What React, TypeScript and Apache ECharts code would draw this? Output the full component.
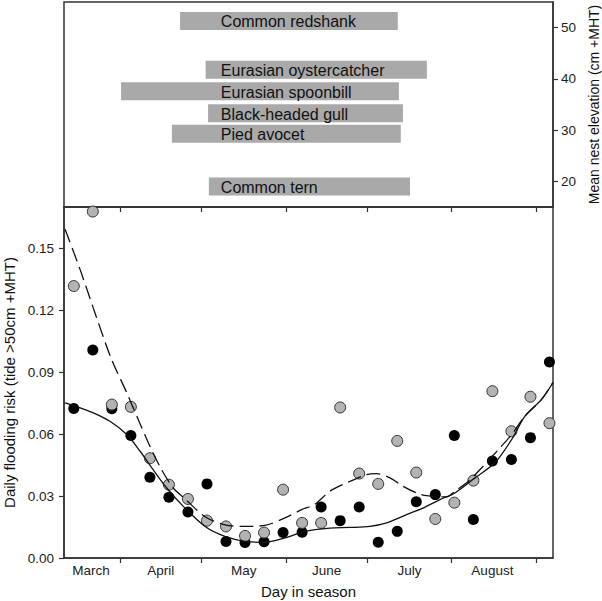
import React, { useEffect, useRef } from "react";
import * as echarts from "echarts";

// ---- Data ----
const weekDays = [74, 81, 88, 95, 102, 109, 116, 123, 130, 137, 144, 151, 158, 165, 172, 179, 186, 193, 200, 207, 214, 221, 228, 235, 242, 249];
const blackRisk = [0.0724, 0.1007, 0.0723, 0.0593, 0.0391, 0.0294, 0.0223, 0.0359, 0.0080, 0.0075, 0.0079, 0.0124, 0.0125, 0.0247, 0.0181, 0.0247, 0.0076, 0.0129, 0.0272, 0.0307, 0.0593, 0.0186, 0.0470, 0.0477, 0.0583, 0.0949];
const grayRisk = [0.1317, 0.1678, 0.0743, 0.0732, 0.0483, 0.0355, 0.0286, 0.0181, 0.0153, 0.0107, 0.0123, 0.0331, 0.0170, 0.0170, 0.0729, 0.0409, 0.0359, 0.0567, 0.0414, 0.0189, 0.0268, 0.0375, 0.0808, 0.0614, 0.0781, 0.0653];

const solidFitDays = [70.8, 76.3, 81.2, 87.3, 93.5, 98.4, 103.2, 108.2, 114.3, 122.3, 129.6, 137.0, 144.3, 151.7, 157.8, 162.7, 168.2, 175.6, 182.9, 189.1, 196.4, 202.5, 208.7, 214.2, 221.6, 228.9, 235.1, 240.0, 246.1, 250.3];
const solidFitRisk = [0.0751, 0.0727, 0.0703, 0.0662, 0.0598, 0.0517, 0.0428, 0.0339, 0.0250, 0.0153, 0.0105, 0.0081, 0.0076, 0.0097, 0.0124, 0.0137, 0.0145, 0.0148, 0.0153, 0.0170, 0.0210, 0.0242, 0.0283, 0.0315, 0.0388, 0.0461, 0.0574, 0.0687, 0.0768, 0.0850];

const dashedFitDays = [70.8, 76.3, 82.4, 87.9, 93.5, 97.7, 102.0, 106.3, 110.6, 114.9, 122.3, 129.6, 137.0, 144.3, 151.7, 157.8, 162.7, 168.2, 175.6, 181.7, 185.4, 190.3, 195.2, 200.1, 203.8, 211.2, 214.2, 219.1, 224.0, 231.3, 235.1, 240.0, 246.1, 250.3];
const dashedFitRisk = [0.1592, 0.1398, 0.1164, 0.0962, 0.0800, 0.0671, 0.0541, 0.0428, 0.0339, 0.0287, 0.0200, 0.0161, 0.0153, 0.0158, 0.0194, 0.0234, 0.0260, 0.0323, 0.0371, 0.0404, 0.0409, 0.0388, 0.0347, 0.0315, 0.0302, 0.0296, 0.0323, 0.0371, 0.0436, 0.0541, 0.0598, 0.0687, 0.0768, 0.0850];

const species = ["Common redshank", "Eurasian oystercatcher", "Eurasian spoonbill", "Black-headed gull", "Pied avocet", "Common tern"];
const nestStart = [113.1, 122.5, 91.4, 123.4, 110.1, 123.7];
const nestEnd = [193.2, 203.9, 193.6, 195.1, 194.3, 197.7];
const nestElevation = [51.3, 41.8, 37.6, 33.3, 29.3, 19.0];

const monthNames = ["March", "April", "May", "June", "July", "August"];
const monthLabelDays = [80.3, 106, 136.5, 167, 197.5, 228];
const monthBoundaryDays = [91, 121, 152, 182, 213, 244];
const riskTicks = [0, 0.03, 0.06, 0.09, 0.12, 0.15];
const elevationTicks = [20, 30, 40, 50];

// ---- Styling ----
const FONT = "'Liberation Sans', Arial, Helvetica, sans-serif";
const AXIS = "#333";
const X_MIN = 70.4;
const X_MAX = 250.3;
const LABEL_DAY = 128.1;
const BAR_PX = 18;

export default function App() {
  const ref = useRef<HTMLDivElement>(null);

  useEffect(() => {
    if (!ref.current) return;
    const chart = echarts.init(ref.current, undefined, { renderer: "svg" });

    const axisLine = { show: true, lineStyle: { color: AXIS, width: 1.5 } };
    const tickStyle = { color: AXIS, width: 1.2 };

    const option: any = {
      animation: false,
      textStyle: { fontFamily: FONT },
      grid: [
        { left: 64, right: 49, top: 2, height: 205, show: true, borderColor: AXIS, borderWidth: 1.5, backgroundColor: "transparent", containLabel: false, outerBoundsMode: "none" },
        { left: 64, right: 49, top: 207, height: 351, show: true, borderColor: AXIS, borderWidth: 1.5, backgroundColor: "transparent", containLabel: false, outerBoundsMode: "none" },
      ],
      xAxis: [
        { type: "value", gridIndex: 0, min: X_MIN, max: X_MAX, show: false },
        {
          type: "value", gridIndex: 1, min: X_MIN, max: X_MAX, position: "bottom",
          name: "Day in season", nameLocation: "middle", nameGap: 26,
          nameTextStyle: { fontSize: 15, color: "#111", fontFamily: FONT },
          axisLine,
          axisTick: { show: true, customValues: monthBoundaryDays, length: 5, lineStyle: tickStyle },
          axisLabel: {
            show: true, customValues: monthLabelDays, margin: 5, fontSize: 13.5, color: "#222", fontFamily: FONT,
            formatter: (v: number) => {
              const i = monthLabelDays.findIndex((d) => Math.abs(d - v) < 0.01);
              return i >= 0 ? monthNames[i] : "";
            },
          },
          splitLine: { show: false },
        },
        {
          type: "value", gridIndex: 1, min: X_MIN, max: X_MAX, position: "top",
          axisLine,
          axisTick: { show: true, inside: true, customValues: monthBoundaryDays, length: 5, lineStyle: tickStyle },
          axisLabel: { show: false },
          splitLine: { show: false },
        },
      ],
      yAxis: [
        {
          type: "value", gridIndex: 0, position: "right", min: 15, max: 55,
          name: "Mean nest elevation (cm +MHT)", nameLocation: "middle", nameGap: 33,
          nameTextStyle: { fontSize: 14, color: "#111", fontFamily: FONT },
          axisLine,
          axisTick: { show: true, customValues: elevationTicks, length: 5, lineStyle: tickStyle },
          axisLabel: { show: true, customValues: elevationTicks, margin: 8, fontSize: 13.5, color: "#222", fontFamily: FONT },
          splitLine: { show: false },
        },
        {
          type: "value", gridIndex: 1, position: "left", min: 0, max: 0.17,
          name: "Daily flooding risk (tide >50cm +MHT)", nameLocation: "middle", nameGap: 47,
          nameTextStyle: { fontSize: 15, color: "#111", fontFamily: FONT },
          axisLine,
          axisTick: { show: true, customValues: riskTicks, length: 5, lineStyle: tickStyle },
          axisLabel: {
            show: true, customValues: riskTicks, margin: 10, fontSize: 13.5, color: "#222", fontFamily: FONT,
            formatter: (v: number) => v.toFixed(2),
          },
          splitLine: { show: false },
        },
      ],
      series: [
        {
          type: "custom",
          xAxisIndex: 0,
          yAxisIndex: 0,
          encode: { x: [0, 1], y: 2 },
          data: species.map((s, i) => [nestStart[i], nestEnd[i], nestElevation[i]]),
          renderItem: (params: any, api: any) => {
            const s = api.coord([api.value(0), api.value(2)]);
            const e = api.coord([api.value(1), api.value(2)]);
            const lx = api.coord([LABEL_DAY, api.value(2)])[0];
            return {
              type: "group",
              children: [
                { type: "rect", shape: { x: s[0], y: s[1] - BAR_PX / 2, width: e[0] - s[0], height: BAR_PX }, style: { fill: "#a9a9a9" } },
                {
                  type: "text", x: lx, y: s[1] + 1,
                  style: { text: species[params.dataIndex], fontSize: 16, fontFamily: FONT, fill: "#111", align: "left", verticalAlign: "middle" },
                },
              ],
            };
          },
        },
        {
          type: "scatter", xAxisIndex: 1, yAxisIndex: 1, symbolSize: 11,
          itemStyle: { color: "#000", opacity: 1 },
          data: weekDays.map((d, i) => [d, blackRisk[i]]),
        },
        {
          type: "scatter", xAxisIndex: 1, yAxisIndex: 1, symbolSize: 11,
          itemStyle: { color: "#b3b3b3", borderColor: "#333", borderWidth: 1, opacity: 1 },
          data: weekDays.map((d, i) => [d, grayRisk[i]]),
        },
        {
          type: "line", xAxisIndex: 1, yAxisIndex: 1, showSymbol: false, smooth: 0.3,
          lineStyle: { color: "#111", width: 1.3 },
          data: solidFitDays.map((d, i) => [d, solidFitRisk[i]]),
        },
        {
          type: "line", xAxisIndex: 1, yAxisIndex: 1, showSymbol: false, smooth: 0.3,
          lineStyle: { color: "#111", width: 1.3, type: [14, 6] },
          data: dashedFitDays.map((d, i) => [d, dashedFitRisk[i]]),
        },
      ],
    };

    chart.setOption(option);
    return () => chart.dispose();
  }, []);

  return (
    <div
      ref={ref}
      style={{ position: "fixed", left: 0, top: 0, width: 602, height: 601, background: "#fff" }}
    />
  );
}
